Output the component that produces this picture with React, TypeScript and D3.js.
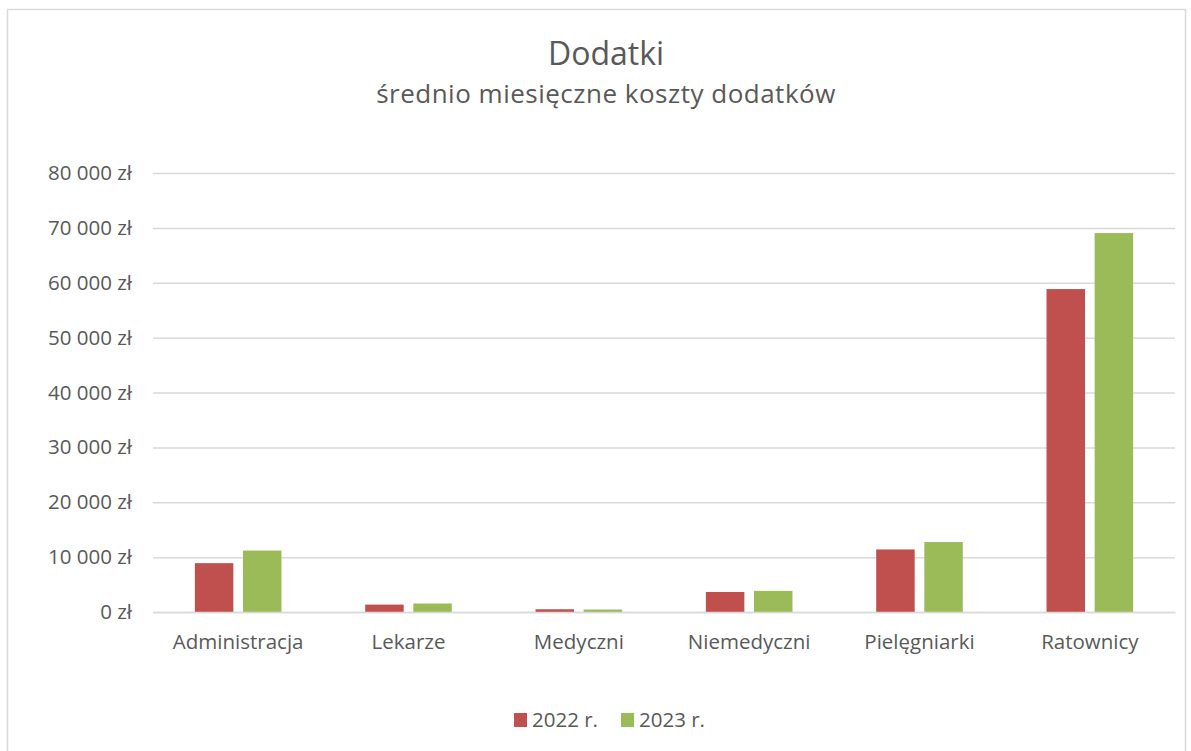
import * as d3 from 'd3';
import React, { useEffect, useRef } from 'react';

const categories = ['Administracja', 'Lekarze', 'Medyczni', 'Niemedyczni', 'Pielęgniarki', 'Ratownicy'];
const seriesNames = ['2022 r.', '2023 r.'];
const values2022 = [8900, 1350, 500, 3650, 11400, 58850];
const values2023 = [11200, 1550, 450, 3850, 12750, 69050];
const colors = ['#c0504d', '#9bbb59'];
const yTicks = [0, 10000, 20000, 30000, 40000, 50000, 60000, 70000, 80000];

const W = 1191;
const H = 751;
const FONT = '"Open Sans", "Noto Sans", sans-serif';

const App = () => {
  const ref = useRef<SVGSVGElement>(null);

  useEffect(() => {
    const svg = d3.select(ref.current);
    svg.selectAll('*').remove();

    svg.append('rect')
      .attr('x', 7.5).attr('y', 9.5)
      .attr('width', 1178).attr('height', 760)
      .attr('fill', '#fff')
      .attr('stroke', '#d9d9d9')
      .attr('stroke-width', 1.5);

    const left = 153, right = 1175, top = 173, bottom = 612;

    const x = d3.scaleBand().domain(categories).range([left, right]).padding(0);
    const x1 = d3.scaleBand().domain(seriesNames).range([0, x.bandwidth()])
      .paddingInner(0.2).paddingOuter(0.87);
    const y = d3.scaleLinear().domain([0, 80000]).range([bottom, top]);

    const fmt = (v: number) => d3.format(',')(v).replace(/,/g, ' ') + ' zł';

    // gridlines
    const yAxis = d3.axisLeft(y).tickValues(yTicks).tickSize(-(right - left)).tickFormat(fmt as any).tickPadding(21);
    const gy = svg.append('g').attr('transform', `translate(${left},0)`).call(yAxis);
    gy.select('.domain').remove();
    gy.selectAll('line').attr('stroke', '#d9d9d9').attr('stroke-width', 1.5);
    gy.selectAll('text')
      .attr('fill', '#595959')
      .style('font-family', FONT)
      .style('font-size', '20.5px');

    const rows = categories.map((c, i) => ({ cat: c, vals: [values2022[i], values2023[i]] }));

    const groups = svg.append('g').selectAll('g')
      .data(rows)
      .enter()
      .append('g')
      .attr('transform', d => `translate(${x(d.cat)},0)`);

    groups.selectAll('rect')
      .data(d => d.vals.map((v, k) => ({ name: seriesNames[k], v, k })))
      .enter()
      .append('rect')
      .attr('x', d => x1(d.name)!)
      .attr('y', d => y(d.v))
      .attr('width', x1.bandwidth())
      .attr('height', d => bottom - y(d.v))
      .attr('fill', d => colors[d.k]);

    const xAxis = d3.axisBottom(x).tickSize(0).tickPadding(22);
    const gx = svg.append('g').attr('transform', `translate(0,${bottom})`).call(xAxis);
    gx.select('.domain').attr('stroke', '#d9d9d9').attr('stroke-width', 1.5);
    gx.selectAll('text')
      .attr('fill', '#595959')
      .style('font-family', FONT)
      .style('font-size', '20.5px');

    svg.append('text')
      .attr('x', 606).attr('y', 65)
      .attr('text-anchor', 'middle')
      .attr('fill', '#595959')
      .style('font-family', FONT)
      .style('font-size', '32px')
      .text('Dodatki');

    svg.append('text')
      .attr('x', 606).attr('y', 103)
      .attr('text-anchor', 'middle')
      .attr('fill', '#595959')
      .style('font-family', FONT)
      .style('font-size', '26px')
      .style('letter-spacing', '0.5px')
      .text('średnio miesięczne koszty dodatków');

    const legendX = [514, 621];
    const leg = svg.append('g').selectAll('g')
      .data(seriesNames)
      .enter()
      .append('g')
      .attr('transform', (d, i) => `translate(${legendX[i]},713)`);
    leg.append('rect').attr('width', 13).attr('height', 14).attr('fill', (d, i) => colors[i]);
    leg.append('text')
      .attr('x', 18).attr('y', 14)
      .attr('fill', '#595959')
      .style('font-family', FONT)
      .style('font-size', '20.5px')
      .text(d => d);
  }, []);

  return (
    <svg ref={ref} width={W} height={H} style={{ position: 'absolute', left: 0, top: 0 }}></svg>
  );
};

export default App;
